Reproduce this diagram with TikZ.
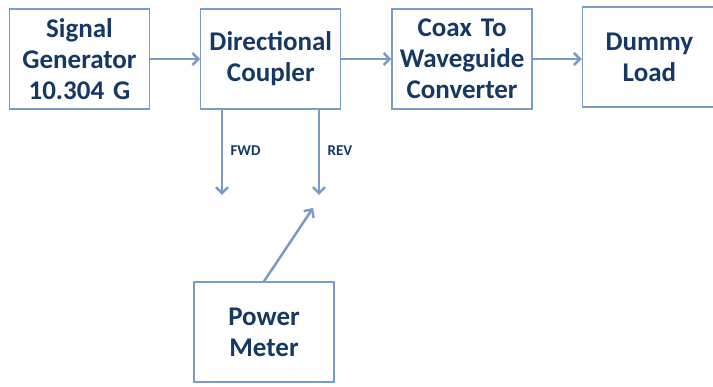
\documentclass[tikz,border=0pt]{standalone}
\usepackage{fontspec}
\setmainfont{Carlito}
\usetikzlibrary{positioning, arrows.meta}
\definecolor{boxblue}{RGB}{120,155,200}
\definecolor{textnavy}{RGB}{22,56,100}
\tikzstyle{rec} = [rectangle, minimum width=140pt, minimum height=100pt, text width=134pt, inner sep=2pt, align=center, draw=boxblue, line width=1.3pt, text=textnavy, font=\bfseries\fontsize{27}{31}\selectfont]
\tikzstyle{arrow} = [line width=2.5pt, draw=boxblue, -{Straight Barb[length=6pt, width=12pt, line width=2.5pt]}]
\tikzstyle{tag} = [text=textnavy, font=\bfseries\fontsize{15}{17}\selectfont]

\begin{document}
\begin{tikzpicture}[x=1pt, y=-1pt]
		\useasboundingbox (0,0) rectangle (713,387);
		\node (siggen) [rec] at (79.5,59) {Signal\\Generator\\10.304 G};
		\node (coupler) [rec, right=50pt of siggen] {Directional\\Coupler};
		\node (coax) [rec, right=50pt of coupler] {Coax To\\Waveguide\\Converter};
		\node (load) [rec, right=49pt of coax, minimum width=134pt, text width=128pt, yshift=2pt] {Dummy\\Load};
		\node (meter) [rec] at (264,332) {Power\\Meter};
		\draw [arrow] (siggen) -- (coupler);
		\draw [arrow] (coupler) -- (coax);
		\draw [arrow] (coax.east) -- (load.west |- coax.east);
		% coupler outputs
		\coordinate (fwd) at (222,195);
		\coordinate (rev) at (319,195);
		\coordinate (meterin) at (313,208);
		\draw [arrow] (coupler.south -| fwd) -- node[tag, midway, right=4pt, yshift=2pt] {FWD} (fwd);
		\draw [arrow] (coupler.south -| rev) -- node[tag, midway, right=4pt, yshift=2pt] {REV} (rev);
		\draw [arrow] (meter.north) -- (meterin);
\end{tikzpicture}
\end{document}
